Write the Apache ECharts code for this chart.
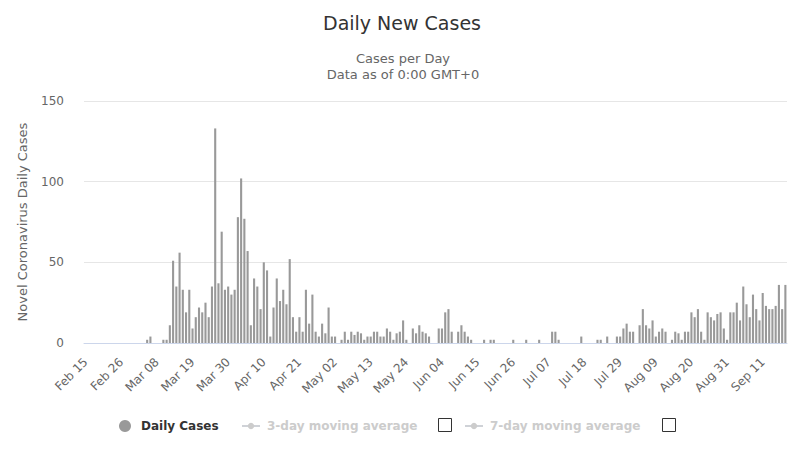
<!DOCTYPE html>
<html>
<head>
<meta charset="utf-8">
<script src="https://cdn.jsdelivr.net/npm/echarts@6/dist/echarts.min.js"></script>
<style>
html,body{margin:0;padding:0;background:#fff;}
#chart{width:800px;height:465px;}
</style>
</head>
<body>
<div id="chart"></div>
<script>
// ---- data ----
const monthNames = ['Jan','Feb','Mar','Apr','May','Jun','Jul','Aug','Sep','Oct','Nov','Dec'];
const firstDay = { year: 2020, month: 1, day: 15 }; // Feb 15, 2020
const dayCount = 217;                               // Feb 15 .. Sep 18

const dailyCases = [
  0,0,0,0,0,0,0,0,0,0,
  0,0,0,0,0,0,0,0,0,2,
  4,0,0,0,2,2,11,51,35,56,
  33,19,33,9,16,22,19,25,16,35,
  133,37,69,33,35,30,33,78,102,77,
  57,11,40,35,21,50,45,4,22,40,
  26,33,24,52,16,7,16,7,33,12,
  30,7,4,12,6,22,4,4,0,2,
  7,2,7,5,7,6,2,4,4,7,
  7,4,4,9,7,2,6,7,14,2,
  0,9,6,11,7,6,4,0,0,9,
  9,19,21,7,0,7,11,7,4,2,
  0,0,0,2,0,2,2,0,0,0,
  0,0,2,0,0,0,2,0,0,0,
  2,0,0,0,7,7,2,0,0,0,
  0,0,0,4,0,0,0,0,2,2,
  0,4,0,0,4,4,9,12,7,7,
  0,11,21,11,9,14,4,7,9,7,
  0,2,7,6,2,7,7,19,16,21,
  7,2,19,16,14,18,19,9,2,19,
  19,25,14,35,24,16,30,21,14,31,
  23,21,21,23,36,21,36
];
// moving-average series are hidden (legend deselected) in the reference
const movingAverage3 = [];
const movingAverage7 = [];

const yMin = 0, yMax = 150, yStep = 50;
const seriesNames = ['Daily Cases', '3-day moving average', '7-day moving average'];

const categories = [];
for (let i = 0; i < dayCount; i++) {
  const d = new Date(Date.UTC(firstDay.year, firstDay.month, firstDay.day + i));
  categories.push(monthNames[d.getUTCMonth()] + ' ' + String(d.getUTCDate()).padStart(2, '0'));
}

// ---- chart ----
const FONT = 'DejaVu Sans';
const chart = echarts.init(document.getElementById('chart'), null, { renderer: 'svg' });

const legendText = { fontFamily: FONT, fontSize: 12, fontWeight: 'bold', color: '#333' };

chart.setOption({
  animation: false,
  backgroundColor: '#fff',
  textStyle: { fontFamily: FONT },
  title: [
    { text: 'Daily New Cases', left: 397, top: 8, textAlign: 'center',
      textStyle: { fontFamily: FONT, fontSize: 19, fontWeight: 'normal', color: '#333' } },
    { text: 'Cases per Day\nData as of 0:00 GMT+0', left: 398, top: 45, textAlign: 'center',
      textStyle: { fontFamily: FONT, fontSize: 13, fontWeight: 'normal', color: '#666', lineHeight: 16 } }
  ],
  grid: { left: 84, right: 13, top: 101, bottom: 122 },
  xAxis: {
    type: 'category',
    data: categories,
    boundaryGap: true,
    axisLine: { lineStyle: { color: '#ccd6eb', width: 1 } },
    axisTick: { show: false },
    axisLabel: { interval: 10, rotate: 45, margin: 17, color: '#666', fontSize: 12, fontFamily: FONT, hideOverlap: false },
    splitLine: { show: false }
  },
  yAxis: {
    type: 'value',
    min: yMin, max: yMax, interval: yStep,
    name: 'Novel Coronavirus Daily Cases',
    nameLocation: 'middle',
    nameGap: 55,
    nameTextStyle: { color: '#666', fontSize: 13, fontFamily: FONT },
    axisLine: { show: false },
    axisTick: { show: false },
    axisLabel: { color: '#666', fontSize: 12, margin: 20, fontFamily: FONT },
    splitLine: { lineStyle: { color: '#e6e6e6', width: 1 } }
  },
  legend: [
    { data: [seriesNames[0]], left: 114, top: 415, icon: 'circle', itemWidth: 12, itemHeight: 12,
      textStyle: Object.assign({}, legendText, { padding: [0, 0, 0, 5] }) },
    { data: [seriesNames[1]], left: 236, top: 415, itemWidth: 18, itemHeight: 8,
      inactiveColor: '#ccc', inactiveBorderColor: '#ccc',
      selected: { '3-day moving average': false },
      textStyle: Object.assign({}, legendText, { padding: [0, 0, 0, 2] }) },
    { data: [seriesNames[2]], left: 459, top: 415, itemWidth: 18, itemHeight: 8,
      inactiveColor: '#ccc', inactiveBorderColor: '#ccc',
      selected: { '7-day moving average': false },
      textStyle: Object.assign({}, legendText, { padding: [0, 0, 0, 2] }) }
  ],
  graphic: [
    { type: 'rect', shape: { x: 438.5, y: 418.5, width: 13, height: 13 },
      style: { fill: '#fff', stroke: '#333', lineWidth: 1 } },
    { type: 'rect', shape: { x: 662.5, y: 418.5, width: 13, height: 13 },
      style: { fill: '#fff', stroke: '#333', lineWidth: 1 } }
  ],
  series: [
    { name: seriesNames[0], type: 'bar', data: dailyCases,
      barCategoryGap: '35%', itemStyle: { color: '#999' } },
    { name: seriesNames[1], type: 'line', data: movingAverage3,
      symbol: 'circle', symbolSize: 6, itemStyle: { color: '#666' }, lineStyle: { width: 2 } },
    { name: seriesNames[2], type: 'line', data: movingAverage7,
      symbol: 'circle', symbolSize: 6, itemStyle: { color: '#444' }, lineStyle: { width: 2 } }
  ]
});
</script>
</body>
</html>
